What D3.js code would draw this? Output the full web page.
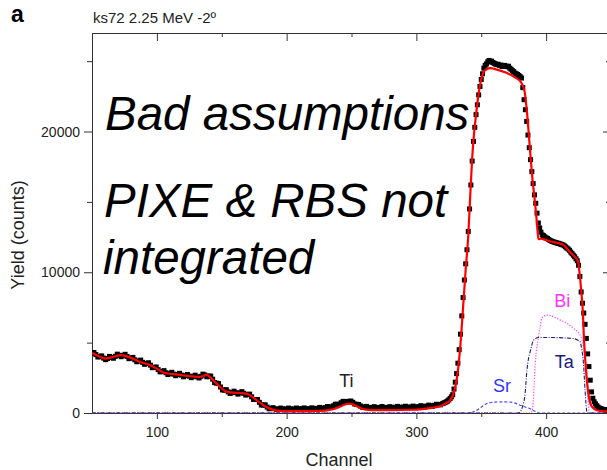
<!DOCTYPE html>
<html>
<head>
<meta charset="utf-8">
<script src="https://cdn.jsdelivr.net/npm/d3@7/dist/d3.min.js"></script>
<style>
  html, body { margin: 0; padding: 0; background: #fff; }
  svg { display: block; }
  text { font-family: "Liberation Sans", Arial, Helvetica, sans-serif; }
</style>
</head>
<body>
<svg id="chart" width="607" height="470"></svg>
<script>
// ---- data -------------------------------------------------------------
const panelLabel = "a";
const runTitle = "ks72 2.25 MeV -2º";
const xTitle = "Channel";
const yTitle = "Yield (counts)";
const xMajorTicks = [100, 200, 300, 400];
const xMinorTicks = [150, 250, 350, 450];
const yMajorTicks = [0, 10000, 20000];
const yMinorTicks = [5000, 15000, 25000];
const noteLines = ["Bad assumptions", "PIXE & RBS not", "integrated"];

// measured spectrum, low-energy part [channel, counts]
const measuredLow = [
  [50,4250],[51.5,4300],[53,4150],[54.5,3980],[56,4000],[57.5,4060],[59,3900],[60.5,3790],[62,3870],[63.5,4020],
  [65,3950],[66.5,3890],[68,4030],[69.5,4180],[71,4100],[72.5,4000],[74,4090],[75.5,4170],[77,4020],[78.5,3860],
  [80,3900],[81.5,3950],[83,3780],[84.5,3640],[86,3690],[87.5,3760],[89,3600],[90.5,3460],[92,3510],[93.5,3570],
  [95,3400],[96.5,3220],[98,3240],[99.5,3270],[101,3080],[102.5,2920],[104,2950],[105.5,3010],[107,2860],[108.5,2730],
  [110,2800],[111.5,2890],[113,2760],[114.5,2650],[116,2730],[117.5,2820],[119,2690],[120.5,2570],[122,2650],[123.5,2740],
  [125,2620],[126.5,2510],[128,2600],[129.5,2690],[131,2570],[132.5,2490],[134,2610],[135.5,2760],[137,2700],[138.5,2570],
  [140,2630],[141.5,2620],[143,2400],[144.5,2160],[146,2120],[147.5,2090],[149,1850],[150.5,1640],[152,1620],[153.5,1660],
  [155,1500],[156.5,1390],[158,1460],[159.5,1550],[161,1440],[162.5,1340],[164,1430],[165.5,1520],[167,1400],[168.5,1270],
  [170,1320],[171.5,1340],[173,1150],[174.5,960],[176,960],[177.5,960],[179,760],[180.5,570],[182,560],[183.5,580],
  [185,420],[186.5,300],[188,330],[189.5,380],[191,300],[192.5,240],[194,290],[195.5,350],[197,300],[198.5,240],
  [200,290],[201.5,350],[203,300],[204.5,240],[206,290],[207.5,355],[209,300],[210.5,250],[212,310],[213.5,360],
  [215,300],[216.5,250],[218,310],[219.5,370],[221,320],[222.5,270],[224,330],[225.5,400],[227,350],[228.5,310],
  [230,380],[231.5,460],[233,430],[234.5,420],[236,510],[237.5,620],[239,620],[240.5,620],[242,730],[243.5,830],
  [245,810],[246.5,770],[248,830],[249.5,850],[251,760],[252.5,640],[254,620],[255.5,600],[257,500],[258.5,410],
  [260,430],[261.5,470],[263,400],[264.5,340],[266,390],[267.5,450],[269,390],[270.5,340],[272,400],[273.5,460],
  [275,400],[276.5,340],[278,390],[279.5,450],[281,400],[282.5,350],[284,410],[285.5,470],[287,410],[288.5,360],
  [290,420],[291.5,480],[293,420],[294.5,370],[296,430],[297.5,490],[299,440],[300.5,390],[302,450],[303.5,520],
  [305,470],[306.5,420],[308,490],[309.5,560],[311,520],[312.5,480],[314,550],[315.5,620],[317,600],[318.5,580],
  [320,660]
];

// measured spectrum, high-energy part [channel, counts]
const measuredHigh = [
  [321,700],[322,740],[323,790],[324,850],[325,930],[326,1030],[327,1150],[328,1300],[329,1700],
  [330,2190],[331,2800],[332,3540],[333,4500],[334,5600],[335,6900],[336,8200],[337,9450],[338,10600],[339,11600],
  [340,12900],[341,14500],[342,16200],[343,17900],[344,19300],[345,20300],[346,21200],[347,21900],[348,22600],[349,23200],
  [350,23700],[351,24100],[352,24500],[353,24700],[354,24800],[355,24950],[356,25050],[357,24950],[358,25000],[359,24900],
  [360,24850],[361,24800],[362,24750],[363,24780],[364,24700],[365,24720],[366,24620],[367,24680],[368,24700],[369,24640],
  [370,24600],[371,24640],[372,24500],[373,24420],[374,24320],[375,24250],[376,24150],[377,24100],[378,24050],[379,23980],
  [380,23900],[381,23800],[382,23120],[383,22260],[384,21550],[385,20720],[386,19750],[387,18850],[388,18000],[389,17150],
  [390,16300],[391,15500],[392,14900],[393,14200],[394,13500],[395,13150],[396,12850],[397,12650],[398,12600],[399,12520],
  [400,12450],[401,12400],[402,12320],[403,12260],[404,12220],[405,12180],[406,12150],[407,12120],[408,12090],[409,12060],
  [410,12050],[411,12000],[412,11980],[413,11940],[414,11880],[415,11800],[416,11720],[417,11650],[418,11560],[419,11430],
  [420,11320],[421,11210],[422,11100],[423,10960],[424,10820],[425,10500],[426,9700],[427,8600],[428,7800],[429,7100],
  [430,6300],[431,5300],[432,4200],[433,3300],[434,2330],[435,1500],[436,1050],[437,800],[438,650],[439,520],
  [440,420],[441,350],[442,310],[443,280],[444,250],[445,230],[446,220],[447,210],[448,200]
];

// simulated total spectrum [channel, counts]
const simulated = [
  [50,4270],[55,4050],[60,3870],[66,3980],[72,4110],[78,3990],[87,3630],[95,3400],[100,3150],[105,2880],
  [110,2790],[115,2740],[120,2680],[126,2610],[133,2560],[136,2630],[138,2720],[141,2550],[146,2090],[150,1750],
  [154,1500],[160,1440],[164,1420],[169,1380],[173,1180],[177,900],[182,560],[187,310],[192,170],[197,140],
  [205,130],[215,130],[225,150],[232,200],[237,300],[241,450],[245,600],[248,670],[251,620],[254,480],
  [257,330],[261,240],[266,210],[280,210],[295,230],[305,280],[312,360],[317,450],[320,540],[323,700],
  [326,900],[329,1500],[331,2330],[334,4900],[336,7500],[338,10200],[340,12600],[341.5,15400],[343,18100],[344.5,19900],
  [346,21200],[348,22700],[350.5,23900],[352,24250],[354,24420],[357,24500],[362,24400],[370,24150],[376,23850],[381,23450],
  [383.5,22800],[385.5,21100],[387.5,18800],[389.5,16600],[391.5,14900],[393,13400],[394,12350],[396,12380],[400,12280],[404,12170],
  [410,12060],[414,11900],[417,11580],[421,11200],[424.5,10780],[426,9750],[427.3,8400],[428.3,7200],[429,5600],[430,4000],
  [431.4,2330],[433,1100],[434,700],[436,380],[439,200],[445,120],[450,100]
];

// partial element spectra [channel, counts]
const srSignal = [
  [50,0],[340,0],[343,60],[346.6,190],[350,420],[354.3,670],[358,750],[362,780],[367,790],[372.3,780],
  [376,700],[380,550],[384,420],[387.7,310],[390,180],[392.9,70],[395,0],[450,0]
];
const taSignal = [
  [50,0],[378,0],[380,100],[382,500],[383.8,1380],[385.2,3030],[386.5,3900],[387.7,4340],[390.3,5170],[394.1,5360],
  [405.7,5360],[415,5330],[421.1,5290],[424,5200],[426.2,5050],[427.5,4500],[428.8,3510],[430,1620],[431.4,70],[432,0],[450,0]
];
const biSignal = [
  [50,0],[388,0],[389.5,300],[390.5,1500],[391.6,3540],[392.8,4600],[394.1,5410],[395.5,6200],[396.7,6720],[398.5,6900],
  [400.6,6960],[404,6900],[408.3,6720],[412,6550],[416,6370],[421.1,6010],[426.2,5530],[428.8,4700],[430,3900],[431.4,2820],
  [432.6,430],[433.5,0],[450,0]
];

// element annotations: [label, channel, counts, colour]
const peakLabels = [
  ["Ti", 246, 1850, "#222222"],
  ["Sr", 366, 1480, "#3333ff"],
  ["Bi", 412.5, 7500, "#ff33ff"],
  ["Ta", 414, 3180, "#1a1a80"]
];

// ---- layout -----------------------------------------------------------
const svg = d3.select("#chart");
const plot = { left: 92, right: 611, top: 33, bottom: 413 };

const x = d3.scaleLinear().domain([50, 450]).range([plot.left, plot.right]);
const y = d3.scaleLinear().domain([0, 27000]).range([plot.bottom, plot.top]);

const axisColor = "#333";
const labelColor = "#222";

// ---- axes -------------------------------------------------------------
function styleAxis(g) {
  g.selectAll("path.domain").attr("stroke", axisColor).attr("stroke-width", 1);
  g.selectAll(".tick line").attr("stroke", axisColor).attr("stroke-width", 1);
  g.selectAll(".tick text").attr("fill", labelColor)
    .style("font-family", '"Liberation Sans", Arial, sans-serif').style("font-size", "14px");
}

// bottom
svg.append("g").attr("transform", `translate(0,${plot.bottom})`)
  .call(d3.axisBottom(x).tickValues(xMajorTicks).tickSize(6).tickSizeOuter(0).tickPadding(8).tickFormat(d3.format("d")))
  .call(styleAxis);
svg.append("g").attr("transform", `translate(0,${plot.bottom})`)
  .call(d3.axisBottom(x).tickValues(xMinorTicks).tickSize(4).tickSizeOuter(0).tickFormat(""))
  .call(styleAxis);
// top (ticks inward)
svg.append("g").attr("transform", `translate(0,${plot.top})`)
  .call(d3.axisBottom(x).tickValues(xMajorTicks).tickSize(8).tickSizeOuter(0).tickFormat(""))
  .call(styleAxis);
svg.append("g").attr("transform", `translate(0,${plot.top})`)
  .call(d3.axisBottom(x).tickValues(xMinorTicks).tickSize(4).tickSizeOuter(0).tickFormat(""))
  .call(styleAxis);
// left
svg.append("g").attr("transform", `translate(${plot.left},0)`)
  .call(d3.axisLeft(y).tickValues(yMajorTicks).tickSize(8).tickSizeOuter(0).tickPadding(4).tickFormat(d3.format("d")))
  .call(styleAxis);
svg.append("g").attr("transform", `translate(${plot.left},0)`)
  .call(d3.axisLeft(y).tickValues(yMinorTicks).tickSize(5).tickSizeOuter(0).tickFormat(""))
  .call(styleAxis);
// right (ticks inward)
svg.append("g").attr("transform", `translate(${plot.right},0)`)
  .call(d3.axisLeft(y).tickValues(yMajorTicks).tickSize(8).tickSizeOuter(0).tickFormat(""))
  .call(styleAxis);
svg.append("g").attr("transform", `translate(${plot.right},0)`)
  .call(d3.axisLeft(y).tickValues(yMinorTicks).tickSize(5).tickSizeOuter(0).tickFormat(""))
  .call(styleAxis);

// axis titles
svg.append("text").attr("x", 339).attr("y", 466).attr("text-anchor", "middle")
  .attr("fill", labelColor).style("font-size", "18px").text(xTitle);
svg.append("text").attr("transform", "translate(24,235) rotate(-90)").attr("text-anchor", "middle")
  .attr("fill", labelColor).style("font-size", "18px").text(yTitle);

// panel letter and run title
svg.append("text").attr("x", 11).attr("y", 22).attr("fill", "#000")
  .style("font-size", "23px").style("font-weight", "bold").text(panelLabel);
svg.append("text").attr("x", 93).attr("y", 23).attr("fill", labelColor)
  .style("font-size", "15px").text(runTitle);

// ---- plot contents ----------------------------------------------------
svg.append("clipPath").attr("id", "plotClip").append("rect")
  .attr("x", plot.left).attr("y", plot.top - 5)
  .attr("width", plot.right - plot.left).attr("height", plot.bottom - plot.top + 5);

const body = svg.append("g").attr("clip-path", "url(#plotClip)");

const line = d3.line().x(d => x(d[0])).y(d => y(d[1])).curve(d3.curveMonotoneX);

// element partial spectra
body.append("path").datum(srSignal).attr("d", line)
  .attr("fill", "none").attr("stroke", "#3a3aff").attr("stroke-width", 1.1)
  .attr("stroke-dasharray", "3,2");
body.append("path").datum(biSignal).attr("d", line)
  .attr("fill", "none").attr("stroke", "#ff40ff").attr("stroke-width", 1.2)
  .attr("stroke-dasharray", "1.2,1.6");
body.append("path").datum(taSignal).attr("d", line)
  .attr("fill", "none").attr("stroke", "#1c1c7a").attr("stroke-width", 1.1)
  .attr("stroke-dasharray", "4,1.5,1,1.5");

// measured points
const sq = 5;
body.append("g").selectAll("rect").data(measuredLow.concat(measuredHigh)).join("rect")
  .attr("x", d => x(d[0]) - sq / 2).attr("y", d => y(d[1]) - sq / 2)
  .attr("width", sq).attr("height", sq).attr("fill", "#000");

// simulated total
body.append("path").datum(simulated).attr("d", line)
  .attr("fill", "none").attr("stroke", "#ff0000").attr("stroke-width", 2.2)
  .attr("stroke-linejoin", "round");

// element labels
svg.append("g").selectAll("text").data(peakLabels).join("text")
  .attr("x", d => x(d[1])).attr("y", d => y(d[2])).attr("text-anchor", "middle")
  .attr("fill", d => d[3]).style("font-size", "18px").text(d => d[0]);

// annotation text
const noteY = [130, 217, 274];
const noteX = [105, 104, 103];
svg.append("g").selectAll("text").data(noteLines).join("text")
  .attr("x", (d, i) => noteX[i]).attr("y", (d, i) => noteY[i])
  .attr("fill", "#000").style("font-size", "47.5px").style("font-style", "italic")
  .text(d => d);
</script>
</body>
</html>
